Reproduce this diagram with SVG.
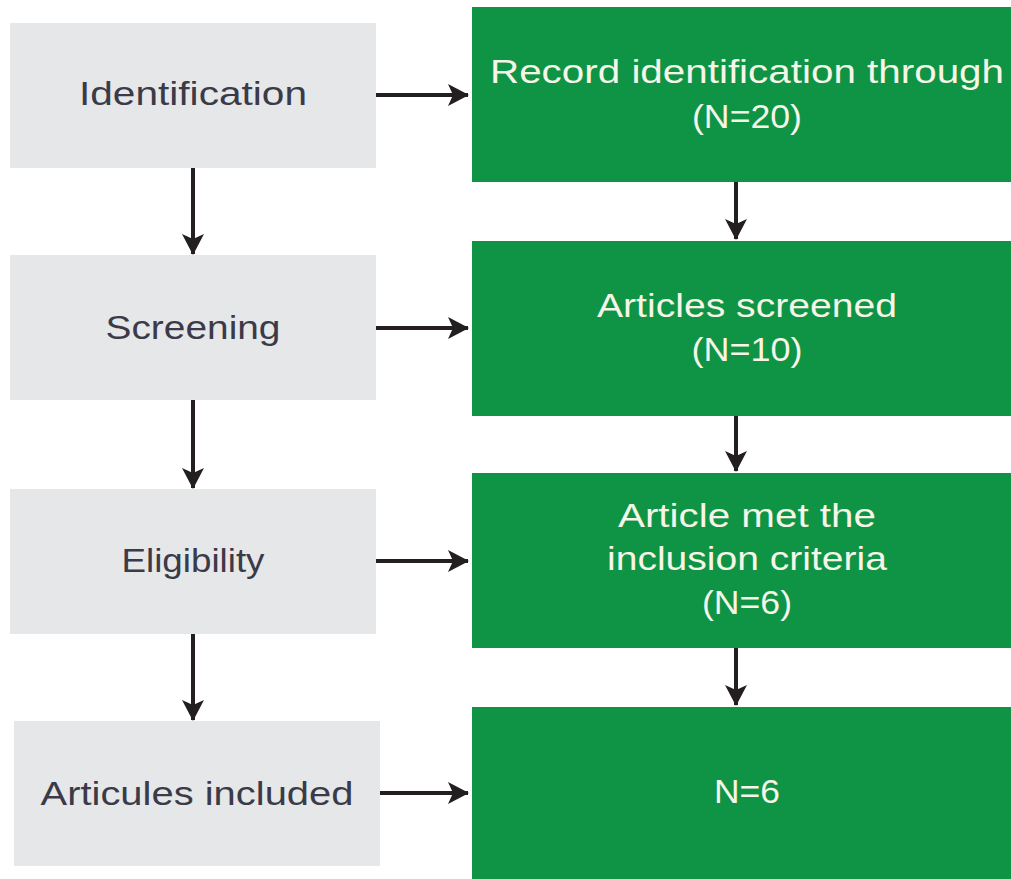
<svg xmlns="http://www.w3.org/2000/svg" width="1011" height="879" viewBox="0 0 1011 879">
<style>
.g{fill:#e6e7e8}
.k{fill:#0e9444}
.t{font-family:"Liberation Sans",Arial,sans-serif;font-size:33px;text-anchor:middle}
.d{fill:#3b3a48}
.w{fill:#f5f5e8}
.c{stroke:#231f20;stroke-width:4;fill:none;marker-end:url(#ah)}
</style>
<defs>
<marker id="ah" markerUnits="userSpaceOnUse" markerWidth="22" markerHeight="24" refX="20" refY="12" orient="auto" viewBox="0 0 22 24">
<path d="M0,1 L21,12 L0,23 L5,12 z" fill="#231f20"/>
</marker>
</defs>
<rect width="1011" height="879" fill="#ffffff"/>
<g id="identification"><rect class="g" x="10" y="23" width="366" height="145"/><text class="t d" x="193" y="105" textLength="228" lengthAdjust="spacingAndGlyphs">Identification</text></g>
<g id="screening"><rect class="g" x="10" y="255" width="366" height="145"/><text class="t d" x="193" y="339" textLength="175" lengthAdjust="spacingAndGlyphs">Screening</text></g>
<g id="eligibility"><rect class="g" x="10" y="489" width="366" height="145"/><text class="t d" x="193" y="572" textLength="143" lengthAdjust="spacingAndGlyphs">Eligibility</text></g>
<g id="included"><rect class="g" x="14" y="721" width="366" height="145"/><text class="t d" x="197" y="805" textLength="313" lengthAdjust="spacingAndGlyphs">Articules included</text></g>
<g id="record"><rect class="k" x="472" y="7" width="539" height="175"/><text class="t w" x="747" y="83" textLength="514" lengthAdjust="spacingAndGlyphs">Record identification through</text><text class="t w" x="747" y="128" textLength="110" lengthAdjust="spacingAndGlyphs">(N=20)</text></g>
<g id="screened"><rect class="k" x="472" y="241" width="539" height="175"/><text class="t w" x="747" y="317" textLength="300" lengthAdjust="spacingAndGlyphs">Articles screened</text><text class="t w" x="747" y="361" textLength="111" lengthAdjust="spacingAndGlyphs">(N=10)</text></g>
<g id="criteria"><rect class="k" x="472" y="473" width="539" height="175"/><text class="t w" x="747" y="527" textLength="258" lengthAdjust="spacingAndGlyphs">Article met the</text><text class="t w" x="747" y="570" textLength="280" lengthAdjust="spacingAndGlyphs">inclusion criteria</text><text class="t w" x="747" y="614" textLength="90" lengthAdjust="spacingAndGlyphs">(N=6)</text></g>
<g id="final"><rect class="k" x="472" y="707" width="539" height="172"/><text class="t w" x="747" y="803" textLength="66" lengthAdjust="spacingAndGlyphs">N=6</text></g>
<g id="connectors">
<path class="c" d="M376,95 H468"/>
<path class="c" d="M376,328 H468"/>
<path class="c" d="M376,561 H468"/>
<path class="c" d="M380,793 H468"/>
<path class="c" d="M193,168 V254"/>
<path class="c" d="M193,400 V488"/>
<path class="c" d="M193,634 V720"/>
<path class="c" d="M736,182 V239"/>
<path class="c" d="M736,416 V471"/>
<path class="c" d="M736,648 V705"/>
</g>
</svg>
